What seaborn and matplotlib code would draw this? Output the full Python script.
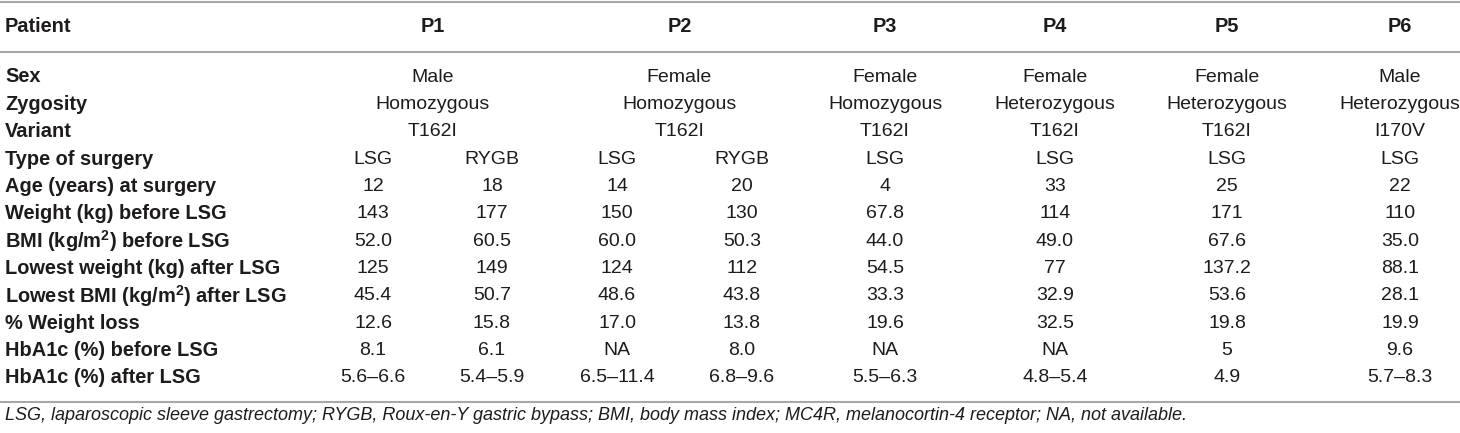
import matplotlib
matplotlib.use("Agg")
import matplotlib.pyplot as plt
import seaborn as sns

# ----------------------------------------------------------
# DATOS DE LA TABLA
# ----------------------------------------------------------

patients = ["P1", "P2", "P3", "P4", "P5", "P6"]
n_surgeries = [2, 2, 1, 1, 1, 1]

sex = ["Male", "Female", "Female", "Female", "Female", "Male"]
zygosity = ["Homozygous", "Homozygous", "Homozygous",
            "Heterozygous", "Heterozygous", "Heterozygous"]
variant = ["T162I", "T162I", "T162I", "T162I", "T162I", "I170V"]

surgery = ["LSG", "RYGB", "LSG", "RYGB", "LSG", "LSG", "LSG", "LSG"]
age = ["12", "18", "14", "20", "4", "33", "25", "22"]
weight_before = ["143", "177", "150", "130", "67.8", "114", "171", "110"]
bmi_before = ["52.0", "60.5", "60.0", "50.3", "44.0", "49.0", "67.6", "35.0"]
lowest_weight = ["125", "149", "124", "112", "54.5", "77", "137.2", "88.1"]
lowest_bmi = ["45.4", "50.7", "48.6", "43.8", "33.3", "32.9", "53.6", "28.1"]
weight_loss = ["12.6", "15.8", "17.0", "13.8", "19.6", "32.5", "19.8", "19.9"]
hba1c_before = ["8.1", "6.1", "NA", "8.0", "NA", "NA", "5", "9.6"]
hba1c_after = ["5.6\u20136.6", "5.4\u20135.9", "6.5\u201311.4", "6.8\u20139.6",
               "5.5\u20136.3", "4.8\u20135.4", "4.9", "5.7\u20138.3"]

row_labels = [
    "Sex",
    "Zygosity",
    "Variant",
    "Type of surgery",
    "Age (years) at surgery",
    "Weight (kg) before LSG",
    r"BMI (kg/m$^\mathbf{2}$) before LSG",
    "Lowest weight (kg) after LSG",
    r"Lowest BMI (kg/m$^\mathbf{2}$) after LSG",
    "% Weight loss",
    "HbA1c (%) before LSG",
    "HbA1c (%) after LSG",
]

patient_rows = [sex, zygosity, variant]
surgery_rows = [surgery, age, weight_before, bmi_before, lowest_weight,
                lowest_bmi, weight_loss, hba1c_before, hba1c_after]

footnote = ("LSG, laparoscopic sleeve gastrectomy; RYGB, Roux-en-Y gastric bypass; "
            "BMI, body mass index; MC4R, melanocortin-4 receptor; NA, not available.")

# ----------------------------------------------------------
# ESTILO
# ----------------------------------------------------------

sns.set_theme(style="white")
plt.rcParams["font.family"] = ["Liberation Sans", "DejaVu Sans"]
plt.rcParams["mathtext.fontset"] = "custom"
plt.rcParams["mathtext.rm"] = "Liberation Sans"
plt.rcParams["mathtext.bf"] = "Liberation Sans:bold"

TXT = "#1e1b1c"
LINEA = "#a8a8a8"
FS = 14
FS_BOLD = 14.4

W, H = 1460, 433

# centros de columnas (px)
sub_x = [373, 492, 617, 742, 885, 1055, 1227, 1400]
y_header = 27
y_rows = [77 + 27.35 * i for i in range(len(row_labels))]

fig = plt.figure(figsize=(W / 100, H / 100), dpi=100)
ax = fig.add_axes([0, 0, 1, 1])
ax.set_xlim(0, W)
ax.set_ylim(H, 0)
ax.axis("off")

# lineas horizontales
for y in [2, 52, 402]:
    ax.axhline(y, color=LINEA, linewidth=1.5)

# encabezado
ax.text(5, y_header, "Patient", fontsize=FS_BOLD, fontweight="bold",
        color=TXT, ha="left", va="center")

patient_x = []
k = 0
for n in n_surgeries:
    patient_x.append(sum(sub_x[k:k + n]) / n)
    k += n

for px, p in zip(patient_x, patients):
    ax.text(px, y_header, p, fontsize=FS_BOLD, fontweight="bold",
            color=TXT, ha="center", va="center")

# etiquetas de filas
for y, lab in zip(y_rows, row_labels):
    ax.text(5, y, lab, fontsize=FS_BOLD, fontweight="bold",
            color=TXT, ha="left", va="center")

# filas por paciente
for y, valores in zip(y_rows[:3], patient_rows):
    for px, v in zip(patient_x, valores):
        ax.text(px, y, v, fontsize=FS, color=TXT, ha="center", va="center")

# filas por cirugia
for y, valores in zip(y_rows[3:], surgery_rows):
    for sx, v in zip(sub_x, valores):
        ax.text(sx, y, v, fontsize=FS, color=TXT, ha="center", va="center")

# nota al pie
ax.text(5, 416, footnote, fontsize=13, style="italic",
        color=TXT, ha="left", va="center")

fig.savefig("out.png", dpi=100)
